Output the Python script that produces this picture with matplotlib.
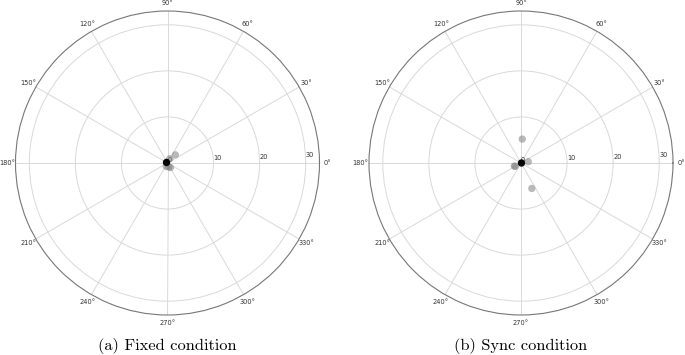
import numpy as np
import matplotlib
matplotlib.use("Agg")
import matplotlib.pyplot as plt

# Data (angle in degrees, radius)
fixed_gray_theta = [46, 62, -72, -57, 250]
fixed_gray_r = [2.46, 1.06, 0.9, 1.17, 0.8]
fixed_black_theta = [150]
fixed_black_r = [0.25]

sync_gray_theta = [87, 10, 293, 205, 210]
sync_gray_r = [5.2, 1.6, 6.0, 1.6, 1.45]
sync_black_theta = [0]
sync_black_r = [0.1]

r_ticks = [0, 10, 20, 30]
r_max = 33
captions = ["(a) Fixed condition", "(b) Sync condition"]

fig = plt.figure(figsize=(6.85, 3.55), dpi=100)

W, H = 685, 355
rad = 152
centers = [(167.5, 163), (521, 163)]
datasets = [
    (fixed_gray_theta, fixed_gray_r, fixed_black_theta, fixed_black_r),
    (sync_gray_theta, sync_gray_r, sync_black_theta, sync_black_r),
]

for (cx, cy), (gt, gr, bt, br), cap in zip(centers, datasets, captions):
    ax = fig.add_axes([(cx - rad) / W, (H - cy - rad) / H, 2 * rad / W, 2 * rad / H],
                      projection="polar")
    ax.scatter(np.deg2rad(gt), gr, s=28, color="gray", alpha=0.55, edgecolors="none", zorder=3)
    ax.scatter(np.deg2rad(bt), br, s=28, color="black", edgecolors="none", zorder=4)
    ax.set_ylim(0, r_max)
    ax.set_yticks(r_ticks)
    ax.set_yticklabels([str(t) for t in r_ticks], fontsize=4.8, color="#333333")
    ax.set_rlabel_position(2)
    ax.set_thetagrids(np.arange(0, 360, 30),
                      [f"{a}°" for a in range(0, 360, 30)], fontsize=4.8, color="#333333")
    ax.tick_params(axis="x", pad=-4.5)
    ax.grid(True, color="#d9d9d9", linewidth=0.7)
    ax.spines["polar"].set_color("#777777")
    ax.spines["polar"].set_linewidth(0.8)
    fig.text(cx / W, 1 - 346 / H, cap, ha="center", va="center",
             fontsize=11.8, family="cmr10")

fig.savefig("out.png", dpi=100)
